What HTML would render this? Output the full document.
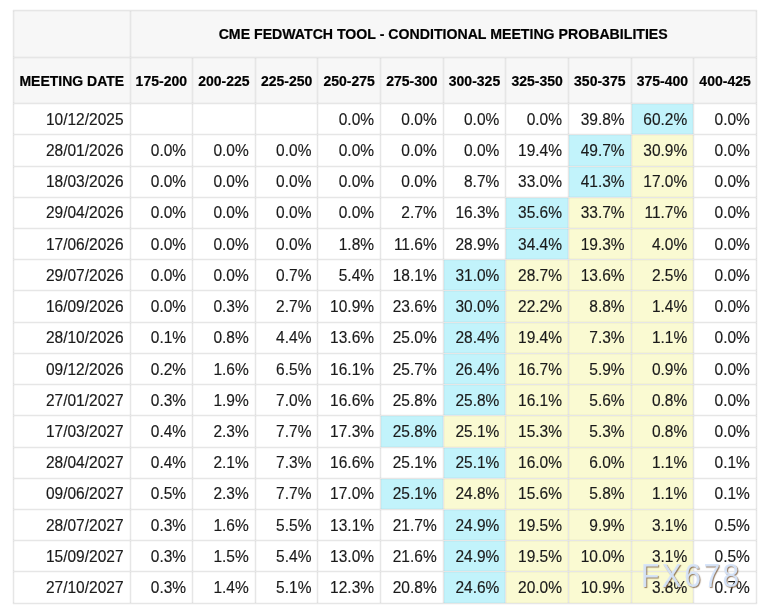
<!DOCTYPE html><html><head><meta charset="utf-8"><style>
*{margin:0;padding:0;box-sizing:border-box}
html,body{width:770px;height:612px;background:#fff;overflow:hidden;position:relative}
body{font-family:"Liberation Sans",sans-serif}
.a{position:absolute}
.hbg{background:#f7f7f7}
.b{background:#c2f3fb}
.y{background:#fafad2}
.lv{position:absolute;width:1px;background:#e6e6e6;box-shadow:-1px 0 0 rgba(0,0,0,0.025),1px 0 0 rgba(0,0,0,0.025)}
.lh{position:absolute;height:1px;background:#e6e6e6;box-shadow:0 -1px 0 rgba(0,0,0,0.025),0 1px 0 rgba(0,0,0,0.025)}
.t{position:absolute;text-align:right;white-space:nowrap;font-size:15.5px;color:#1a1a1a;line-height:20px;transform:scaleY(1.05);transform-origin:100% 50%;-webkit-text-stroke:0.15px #1a1a1a}
.h{position:absolute;text-align:center;white-space:nowrap;font-size:14px;font-weight:bold;color:#000;line-height:20px;transform:scaleY(1.04);transform-origin:50% 50%;-webkit-text-stroke:0.2px #000}
.wm{position:absolute;white-space:nowrap;font-size:30px;color:rgba(214,229,251,0.95);line-height:1;left:640.9px;top:562.0px;letter-spacing:2.5px;text-shadow:1px 1px 1px rgba(105,70,35,0.7);transform:scaleY(1.08);transform-origin:0 24.9px;-webkit-text-stroke:0px transparent}
</style></head><body><div id="w" style="position:absolute;left:0;top:0;width:770px;height:612px;background:#fff;will-change:transform">
<div class="a hbg" style="left:13px;top:10px;width:743px;height:93px"></div>
<div class="a b" style="left:631px;top:103px;width:62px;height:31px"></div>
<div class="a b" style="left:568px;top:134px;width:63px;height:32px"></div>
<div class="a y" style="left:631px;top:134px;width:62px;height:32px"></div>
<div class="a b" style="left:568px;top:166px;width:63px;height:31px"></div>
<div class="a y" style="left:631px;top:166px;width:62px;height:31px"></div>
<div class="a b" style="left:505px;top:197px;width:63px;height:31px"></div>
<div class="a y" style="left:568px;top:197px;width:63px;height:31px"></div>
<div class="a y" style="left:631px;top:197px;width:62px;height:31px"></div>
<div class="a b" style="left:505px;top:228px;width:63px;height:31px"></div>
<div class="a y" style="left:568px;top:228px;width:63px;height:31px"></div>
<div class="a y" style="left:631px;top:228px;width:62px;height:31px"></div>
<div class="a b" style="left:443px;top:259px;width:62px;height:31px"></div>
<div class="a y" style="left:505px;top:259px;width:63px;height:31px"></div>
<div class="a y" style="left:568px;top:259px;width:63px;height:31px"></div>
<div class="a y" style="left:631px;top:259px;width:62px;height:31px"></div>
<div class="a b" style="left:443px;top:290px;width:62px;height:32px"></div>
<div class="a y" style="left:505px;top:290px;width:63px;height:32px"></div>
<div class="a y" style="left:568px;top:290px;width:63px;height:32px"></div>
<div class="a y" style="left:631px;top:290px;width:62px;height:32px"></div>
<div class="a b" style="left:443px;top:322px;width:62px;height:31px"></div>
<div class="a y" style="left:505px;top:322px;width:63px;height:31px"></div>
<div class="a y" style="left:568px;top:322px;width:63px;height:31px"></div>
<div class="a y" style="left:631px;top:322px;width:62px;height:31px"></div>
<div class="a b" style="left:443px;top:353px;width:62px;height:31px"></div>
<div class="a y" style="left:505px;top:353px;width:63px;height:31px"></div>
<div class="a y" style="left:568px;top:353px;width:63px;height:31px"></div>
<div class="a y" style="left:631px;top:353px;width:62px;height:31px"></div>
<div class="a b" style="left:443px;top:384px;width:62px;height:31px"></div>
<div class="a y" style="left:505px;top:384px;width:63px;height:31px"></div>
<div class="a y" style="left:568px;top:384px;width:63px;height:31px"></div>
<div class="a y" style="left:631px;top:384px;width:62px;height:31px"></div>
<div class="a b" style="left:380px;top:415px;width:63px;height:32px"></div>
<div class="a y" style="left:443px;top:415px;width:62px;height:32px"></div>
<div class="a y" style="left:505px;top:415px;width:63px;height:32px"></div>
<div class="a y" style="left:568px;top:415px;width:63px;height:32px"></div>
<div class="a y" style="left:631px;top:415px;width:62px;height:32px"></div>
<div class="a b" style="left:443px;top:447px;width:62px;height:31px"></div>
<div class="a y" style="left:505px;top:447px;width:63px;height:31px"></div>
<div class="a y" style="left:568px;top:447px;width:63px;height:31px"></div>
<div class="a y" style="left:631px;top:447px;width:62px;height:31px"></div>
<div class="a b" style="left:380px;top:478px;width:63px;height:31px"></div>
<div class="a y" style="left:443px;top:478px;width:62px;height:31px"></div>
<div class="a y" style="left:505px;top:478px;width:63px;height:31px"></div>
<div class="a y" style="left:568px;top:478px;width:63px;height:31px"></div>
<div class="a y" style="left:631px;top:478px;width:62px;height:31px"></div>
<div class="a b" style="left:443px;top:509px;width:62px;height:31px"></div>
<div class="a y" style="left:505px;top:509px;width:63px;height:31px"></div>
<div class="a y" style="left:568px;top:509px;width:63px;height:31px"></div>
<div class="a y" style="left:631px;top:509px;width:62px;height:31px"></div>
<div class="a b" style="left:443px;top:540px;width:62px;height:31px"></div>
<div class="a y" style="left:505px;top:540px;width:63px;height:31px"></div>
<div class="a y" style="left:568px;top:540px;width:63px;height:31px"></div>
<div class="a y" style="left:631px;top:540px;width:62px;height:31px"></div>
<div class="a b" style="left:443px;top:571px;width:62px;height:32px"></div>
<div class="a y" style="left:505px;top:571px;width:63px;height:32px"></div>
<div class="a y" style="left:568px;top:571px;width:63px;height:32px"></div>
<div class="a y" style="left:631px;top:571px;width:62px;height:32px"></div>
<div class="lv" style="left:13px;top:10px;height:594px"></div>
<div class="lv" style="left:130px;top:10px;height:594px"></div>
<div class="lv" style="left:192px;top:57px;height:547px"></div>
<div class="lv" style="left:255px;top:57px;height:547px"></div>
<div class="lv" style="left:317px;top:57px;height:547px"></div>
<div class="lv" style="left:380px;top:57px;height:547px"></div>
<div class="lv" style="left:443px;top:57px;height:547px"></div>
<div class="lv" style="left:505px;top:57px;height:547px"></div>
<div class="lv" style="left:568px;top:57px;height:547px"></div>
<div class="lv" style="left:631px;top:57px;height:547px"></div>
<div class="lv" style="left:693px;top:57px;height:547px"></div>
<div class="lv" style="left:756px;top:10px;height:594px"></div>
<div class="lh" style="left:13px;top:10px;width:744px"></div>
<div class="lh" style="left:13px;top:57px;width:744px"></div>
<div class="lh" style="left:13px;top:103px;width:744px"></div>
<div class="lh" style="left:13px;top:134px;width:744px"></div>
<div class="lh" style="left:13px;top:166px;width:744px"></div>
<div class="lh" style="left:13px;top:197px;width:744px"></div>
<div class="lh" style="left:13px;top:228px;width:744px"></div>
<div class="lh" style="left:13px;top:259px;width:744px"></div>
<div class="lh" style="left:13px;top:290px;width:744px"></div>
<div class="lh" style="left:13px;top:322px;width:744px"></div>
<div class="lh" style="left:13px;top:353px;width:744px"></div>
<div class="lh" style="left:13px;top:384px;width:744px"></div>
<div class="lh" style="left:13px;top:415px;width:744px"></div>
<div class="lh" style="left:13px;top:447px;width:744px"></div>
<div class="lh" style="left:13px;top:478px;width:744px"></div>
<div class="lh" style="left:13px;top:509px;width:744px"></div>
<div class="lh" style="left:13px;top:540px;width:744px"></div>
<div class="lh" style="left:13px;top:571px;width:744px"></div>
<div class="lh" style="left:13px;top:603px;width:744px"></div>
<div class="h" style="left:130px;width:626.4px;top:24.4px;font-size:14.15px">CME FEDWATCH TOOL - CONDITIONAL MEETING PROBABILITIES</div>
<div class="h" style="left:13.5px;width:116.5px;top:71px">MEETING DATE</div>
<div class="h" style="left:130px;width:62.64px;top:71px">175-200</div>
<div class="h" style="left:192.64px;width:62.64px;top:71px">200-225</div>
<div class="h" style="left:255.28px;width:62.64px;top:71px">225-250</div>
<div class="h" style="left:317.92px;width:62.64px;top:71px">250-275</div>
<div class="h" style="left:380.56px;width:62.64px;top:71px">275-300</div>
<div class="h" style="left:443.2px;width:62.64px;top:71px">300-325</div>
<div class="h" style="left:505.84px;width:62.64px;top:71px">325-350</div>
<div class="h" style="left:568.48px;width:62.64px;top:71px">350-375</div>
<div class="h" style="left:631.12px;width:62.64px;top:71px">375-400</div>
<div class="h" style="left:693.76px;width:62.64px;top:71px">400-425</div>
<div class="t" style="right:646.5px;top:109.8px">10/12/2025</div>
<div class="t" style="right:395.94px;top:109.8px">0.0%</div>
<div class="t" style="right:333.3px;top:109.8px">0.0%</div>
<div class="t" style="right:270.66px;top:109.8px">0.0%</div>
<div class="t" style="right:208.02px;top:109.8px">0.0%</div>
<div class="t" style="right:145.38px;top:109.8px">39.8%</div>
<div class="t" style="right:82.74px;top:109.8px">60.2%</div>
<div class="t" style="right:20.1px;top:109.8px">0.0%</div>
<div class="t" style="right:646.5px;top:141.01px">28/01/2026</div>
<div class="t" style="right:583.86px;top:141.01px">0.0%</div>
<div class="t" style="right:521.22px;top:141.01px">0.0%</div>
<div class="t" style="right:458.58px;top:141.01px">0.0%</div>
<div class="t" style="right:395.94px;top:141.01px">0.0%</div>
<div class="t" style="right:333.3px;top:141.01px">0.0%</div>
<div class="t" style="right:270.66px;top:141.01px">0.0%</div>
<div class="t" style="right:208.02px;top:141.01px">19.4%</div>
<div class="t" style="right:145.38px;top:141.01px">49.7%</div>
<div class="t" style="right:82.74px;top:141.01px">30.9%</div>
<div class="t" style="right:20.1px;top:141.01px">0.0%</div>
<div class="t" style="right:646.5px;top:172.23px">18/03/2026</div>
<div class="t" style="right:583.86px;top:172.23px">0.0%</div>
<div class="t" style="right:521.22px;top:172.23px">0.0%</div>
<div class="t" style="right:458.58px;top:172.23px">0.0%</div>
<div class="t" style="right:395.94px;top:172.23px">0.0%</div>
<div class="t" style="right:333.3px;top:172.23px">0.0%</div>
<div class="t" style="right:270.66px;top:172.23px">8.7%</div>
<div class="t" style="right:208.02px;top:172.23px">33.0%</div>
<div class="t" style="right:145.38px;top:172.23px">41.3%</div>
<div class="t" style="right:82.74px;top:172.23px">17.0%</div>
<div class="t" style="right:20.1px;top:172.23px">0.0%</div>
<div class="t" style="right:646.5px;top:203.45px">29/04/2026</div>
<div class="t" style="right:583.86px;top:203.45px">0.0%</div>
<div class="t" style="right:521.22px;top:203.45px">0.0%</div>
<div class="t" style="right:458.58px;top:203.45px">0.0%</div>
<div class="t" style="right:395.94px;top:203.45px">0.0%</div>
<div class="t" style="right:333.3px;top:203.45px">2.7%</div>
<div class="t" style="right:270.66px;top:203.45px">16.3%</div>
<div class="t" style="right:208.02px;top:203.45px">35.6%</div>
<div class="t" style="right:145.38px;top:203.45px">33.7%</div>
<div class="t" style="right:82.74px;top:203.45px">11.7%</div>
<div class="t" style="right:20.1px;top:203.45px">0.0%</div>
<div class="t" style="right:646.5px;top:234.66px">17/06/2026</div>
<div class="t" style="right:583.86px;top:234.66px">0.0%</div>
<div class="t" style="right:521.22px;top:234.66px">0.0%</div>
<div class="t" style="right:458.58px;top:234.66px">0.0%</div>
<div class="t" style="right:395.94px;top:234.66px">1.8%</div>
<div class="t" style="right:333.3px;top:234.66px">11.6%</div>
<div class="t" style="right:270.66px;top:234.66px">28.9%</div>
<div class="t" style="right:208.02px;top:234.66px">34.4%</div>
<div class="t" style="right:145.38px;top:234.66px">19.3%</div>
<div class="t" style="right:82.74px;top:234.66px">4.0%</div>
<div class="t" style="right:20.1px;top:234.66px">0.0%</div>
<div class="t" style="right:646.5px;top:265.88px">29/07/2026</div>
<div class="t" style="right:583.86px;top:265.88px">0.0%</div>
<div class="t" style="right:521.22px;top:265.88px">0.0%</div>
<div class="t" style="right:458.58px;top:265.88px">0.7%</div>
<div class="t" style="right:395.94px;top:265.88px">5.4%</div>
<div class="t" style="right:333.3px;top:265.88px">18.1%</div>
<div class="t" style="right:270.66px;top:265.88px">31.0%</div>
<div class="t" style="right:208.02px;top:265.88px">28.7%</div>
<div class="t" style="right:145.38px;top:265.88px">13.6%</div>
<div class="t" style="right:82.74px;top:265.88px">2.5%</div>
<div class="t" style="right:20.1px;top:265.88px">0.0%</div>
<div class="t" style="right:646.5px;top:297.09px">16/09/2026</div>
<div class="t" style="right:583.86px;top:297.09px">0.0%</div>
<div class="t" style="right:521.22px;top:297.09px">0.3%</div>
<div class="t" style="right:458.58px;top:297.09px">2.7%</div>
<div class="t" style="right:395.94px;top:297.09px">10.9%</div>
<div class="t" style="right:333.3px;top:297.09px">23.6%</div>
<div class="t" style="right:270.66px;top:297.09px">30.0%</div>
<div class="t" style="right:208.02px;top:297.09px">22.2%</div>
<div class="t" style="right:145.38px;top:297.09px">8.8%</div>
<div class="t" style="right:82.74px;top:297.09px">1.4%</div>
<div class="t" style="right:20.1px;top:297.09px">0.0%</div>
<div class="t" style="right:646.5px;top:328.31px">28/10/2026</div>
<div class="t" style="right:583.86px;top:328.31px">0.1%</div>
<div class="t" style="right:521.22px;top:328.31px">0.8%</div>
<div class="t" style="right:458.58px;top:328.31px">4.4%</div>
<div class="t" style="right:395.94px;top:328.31px">13.6%</div>
<div class="t" style="right:333.3px;top:328.31px">25.0%</div>
<div class="t" style="right:270.66px;top:328.31px">28.4%</div>
<div class="t" style="right:208.02px;top:328.31px">19.4%</div>
<div class="t" style="right:145.38px;top:328.31px">7.3%</div>
<div class="t" style="right:82.74px;top:328.31px">1.1%</div>
<div class="t" style="right:20.1px;top:328.31px">0.0%</div>
<div class="t" style="right:646.5px;top:359.53px">09/12/2026</div>
<div class="t" style="right:583.86px;top:359.53px">0.2%</div>
<div class="t" style="right:521.22px;top:359.53px">1.6%</div>
<div class="t" style="right:458.58px;top:359.53px">6.5%</div>
<div class="t" style="right:395.94px;top:359.53px">16.1%</div>
<div class="t" style="right:333.3px;top:359.53px">25.7%</div>
<div class="t" style="right:270.66px;top:359.53px">26.4%</div>
<div class="t" style="right:208.02px;top:359.53px">16.7%</div>
<div class="t" style="right:145.38px;top:359.53px">5.9%</div>
<div class="t" style="right:82.74px;top:359.53px">0.9%</div>
<div class="t" style="right:20.1px;top:359.53px">0.0%</div>
<div class="t" style="right:646.5px;top:390.74px">27/01/2027</div>
<div class="t" style="right:583.86px;top:390.74px">0.3%</div>
<div class="t" style="right:521.22px;top:390.74px">1.9%</div>
<div class="t" style="right:458.58px;top:390.74px">7.0%</div>
<div class="t" style="right:395.94px;top:390.74px">16.6%</div>
<div class="t" style="right:333.3px;top:390.74px">25.8%</div>
<div class="t" style="right:270.66px;top:390.74px">25.8%</div>
<div class="t" style="right:208.02px;top:390.74px">16.1%</div>
<div class="t" style="right:145.38px;top:390.74px">5.6%</div>
<div class="t" style="right:82.74px;top:390.74px">0.8%</div>
<div class="t" style="right:20.1px;top:390.74px">0.0%</div>
<div class="t" style="right:646.5px;top:421.96px">17/03/2027</div>
<div class="t" style="right:583.86px;top:421.96px">0.4%</div>
<div class="t" style="right:521.22px;top:421.96px">2.3%</div>
<div class="t" style="right:458.58px;top:421.96px">7.7%</div>
<div class="t" style="right:395.94px;top:421.96px">17.3%</div>
<div class="t" style="right:333.3px;top:421.96px">25.8%</div>
<div class="t" style="right:270.66px;top:421.96px">25.1%</div>
<div class="t" style="right:208.02px;top:421.96px">15.3%</div>
<div class="t" style="right:145.38px;top:421.96px">5.3%</div>
<div class="t" style="right:82.74px;top:421.96px">0.8%</div>
<div class="t" style="right:20.1px;top:421.96px">0.0%</div>
<div class="t" style="right:646.5px;top:453.17px">28/04/2027</div>
<div class="t" style="right:583.86px;top:453.17px">0.4%</div>
<div class="t" style="right:521.22px;top:453.17px">2.1%</div>
<div class="t" style="right:458.58px;top:453.17px">7.3%</div>
<div class="t" style="right:395.94px;top:453.17px">16.6%</div>
<div class="t" style="right:333.3px;top:453.17px">25.1%</div>
<div class="t" style="right:270.66px;top:453.17px">25.1%</div>
<div class="t" style="right:208.02px;top:453.17px">16.0%</div>
<div class="t" style="right:145.38px;top:453.17px">6.0%</div>
<div class="t" style="right:82.74px;top:453.17px">1.1%</div>
<div class="t" style="right:20.1px;top:453.17px">0.1%</div>
<div class="t" style="right:646.5px;top:484.39px">09/06/2027</div>
<div class="t" style="right:583.86px;top:484.39px">0.5%</div>
<div class="t" style="right:521.22px;top:484.39px">2.3%</div>
<div class="t" style="right:458.58px;top:484.39px">7.7%</div>
<div class="t" style="right:395.94px;top:484.39px">17.0%</div>
<div class="t" style="right:333.3px;top:484.39px">25.1%</div>
<div class="t" style="right:270.66px;top:484.39px">24.8%</div>
<div class="t" style="right:208.02px;top:484.39px">15.6%</div>
<div class="t" style="right:145.38px;top:484.39px">5.8%</div>
<div class="t" style="right:82.74px;top:484.39px">1.1%</div>
<div class="t" style="right:20.1px;top:484.39px">0.1%</div>
<div class="t" style="right:646.5px;top:515.61px">28/07/2027</div>
<div class="t" style="right:583.86px;top:515.61px">0.3%</div>
<div class="t" style="right:521.22px;top:515.61px">1.6%</div>
<div class="t" style="right:458.58px;top:515.61px">5.5%</div>
<div class="t" style="right:395.94px;top:515.61px">13.1%</div>
<div class="t" style="right:333.3px;top:515.61px">21.7%</div>
<div class="t" style="right:270.66px;top:515.61px">24.9%</div>
<div class="t" style="right:208.02px;top:515.61px">19.5%</div>
<div class="t" style="right:145.38px;top:515.61px">9.9%</div>
<div class="t" style="right:82.74px;top:515.61px">3.1%</div>
<div class="t" style="right:20.1px;top:515.61px">0.5%</div>
<div class="t" style="right:646.5px;top:546.82px">15/09/2027</div>
<div class="t" style="right:583.86px;top:546.82px">0.3%</div>
<div class="t" style="right:521.22px;top:546.82px">1.5%</div>
<div class="t" style="right:458.58px;top:546.82px">5.4%</div>
<div class="t" style="right:395.94px;top:546.82px">13.0%</div>
<div class="t" style="right:333.3px;top:546.82px">21.6%</div>
<div class="t" style="right:270.66px;top:546.82px">24.9%</div>
<div class="t" style="right:208.02px;top:546.82px">19.5%</div>
<div class="t" style="right:145.38px;top:546.82px">10.0%</div>
<div class="t" style="right:82.74px;top:546.82px">3.1%</div>
<div class="t" style="right:20.1px;top:546.82px">0.5%</div>
<div class="t" style="right:646.5px;top:578.04px">27/10/2027</div>
<div class="t" style="right:583.86px;top:578.04px">0.3%</div>
<div class="t" style="right:521.22px;top:578.04px">1.4%</div>
<div class="t" style="right:458.58px;top:578.04px">5.1%</div>
<div class="t" style="right:395.94px;top:578.04px">12.3%</div>
<div class="t" style="right:333.3px;top:578.04px">20.8%</div>
<div class="t" style="right:270.66px;top:578.04px">24.6%</div>
<div class="t" style="right:208.02px;top:578.04px">20.0%</div>
<div class="t" style="right:145.38px;top:578.04px">10.9%</div>
<div class="t" style="right:82.74px;top:578.04px">3.8%</div>
<div class="t" style="right:20.1px;top:578.04px">0.7%</div>
<div class="wm">FX678</div>
</div></body></html>
